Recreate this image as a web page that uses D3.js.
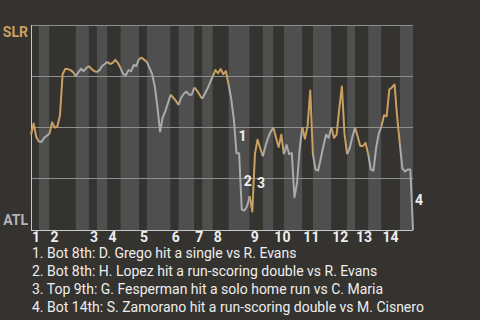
<!DOCTYPE html>
<html>
<head>
<meta charset="utf-8">
<script src="https://cdn.jsdelivr.net/npm/d3@7"></script>
<style>
  body { margin: 0; background: #35332f; }
  svg { display: block; font-family: Roboto, "Noto Sans", sans-serif; }
</style>
</head>
<body>
<div id="chart"></div>
<script>
// teams: away (top of plot) and home (bottom)
const awayTeam = "SLR", homeTeam = "ATL";

// event index where each half inning starts (last entry = final event)
const halfInningStarts = [0, 3, 7, 17, 22, 25, 29, 34, 41, 44, 53, 56, 62, 65, 69, 75, 83, 88, 92, 96, 103, 107, 114, 120, 123, 128, 133, 140, 145];
const innings = [1, 2, 3, 4, 5, 6, 7, 8, 9, 10, 11, 12, 13, 14];

// SLR win probability after each event
const winProb = [
  0.465, 0.52, 0.455, 0.43, 0.43, 0.45, 0.46, 0.47, 0.525, 0.50,
  0.505, 0.56, 0.76, 0.785, 0.785, 0.78, 0.77, 0.75, 0.77, 0.786,
  0.775, 0.79, 0.80, 0.785, 0.775, 0.77, 0.78, 0.80, 0.81, 0.82,
  0.81, 0.815, 0.83, 0.815, 0.79, 0.76, 0.755, 0.78, 0.775, 0.805,
  0.80, 0.835, 0.84, 0.83, 0.82, 0.79, 0.76, 0.70, 0.60, 0.48,
  0.55, 0.58, 0.62, 0.66, 0.645, 0.63, 0.61, 0.645, 0.665, 0.675,
  0.66, 0.66, 0.695, 0.68, 0.66, 0.64, 0.665, 0.69, 0.72, 0.75,
  0.78, 0.765, 0.785, 0.76, 0.775, 0.71, 0.64, 0.54, 0.375, 0.375,
  0.10, 0.095, 0.115, 0.165, 0.09, 0.37, 0.44, 0.40, 0.36, 0.41,
  0.45, 0.48, 0.50, 0.45, 0.405, 0.465, 0.37, 0.415, 0.37, 0.375,
  0.16, 0.23, 0.40, 0.50, 0.445, 0.51, 0.68, 0.37, 0.295, 0.29,
  0.35, 0.41, 0.465, 0.45, 0.50, 0.45, 0.465, 0.59, 0.70, 0.47,
  0.37, 0.40, 0.455, 0.50, 0.455, 0.41, 0.41, 0.425, 0.37, 0.295,
  0.29, 0.40, 0.47, 0.505, 0.56, 0.555, 0.685, 0.695, 0.71, 0.55,
  0.42, 0.30, 0.285, 0.295, 0.295, 0
];

// key plays: event index + description
const keyEvents = [78, 80, 85, 145];
const keyTexts = [
  "Bot 8th: D. Grego hit a single vs R. Evans",
  "Bot 8th: H. Lopez hit a run-scoring double vs R. Evans",
  "Top 9th: G. Fesperman hit a solo home run vs C. Maria",
  "Bot 14th: S. Zamorano hit a run-scoring double vs M. Cisnero"
];

let width = 480, height = 320;
let margin = {left: 31, right: 67, top: 25, bottom: 90};

const gold = "#c9a063", grey = "#aaaaaa";

let svg = d3.select("#chart").append("svg")
    .attr("width", width).attr("height", height);

svg.append("rect")
    .attr("width", width).attr("height", height)
    .attr("fill", "#35332f");

let x = d3.scaleLinear()
    .domain([0, winProb.length - 1])
    .range([margin.left, width - margin.right]);
let y = d3.scaleLinear()
    .domain([0, 1])
    .range([height - margin.bottom, margin.top]);

// half inning bands, top halves dark, bottom halves light
let halves = d3.range(halfInningStarts.length - 1).map(i => ({
    i: i, from: halfInningStarts[i], to: halfInningStarts[i + 1], top: i % 2 === 0
}));

svg.append("g").selectAll("rect")
    .data(halves)
    .join("rect")
    .attr("x", d => x(d.from))
    .attr("y", y(1))
    .attr("width", d => x(d.to) - x(d.from))
    .attr("height", y(0) - y(1))
    .attr("fill", d => d.top ? "#35332f" : "#4f4f4f");

// grid lines
svg.append("g").selectAll("line")
    .data([0.25, 0.5, 0.75, 1])
    .join("line")
    .attr("x1", x(0)).attr("x2", x(winProb.length - 1))
    .attr("y1", d => y(d)).attr("y2", d => y(d))
    .attr("stroke", "#8f8f8f")
    .attr("stroke-width", 1)
    .attr("shape-rendering", "crispEdges");

// axes lines (left + bottom)
svg.append("line")
    .attr("x1", x(0)).attr("x2", x(0))
    .attr("y1", y(1)).attr("y2", y(0))
    .attr("stroke", "#c8c8c8").attr("shape-rendering", "crispEdges");
svg.append("line")
    .attr("x1", x(0)).attr("x2", x(winProb.length - 1))
    .attr("y1", y(0)).attr("y2", y(0))
    .attr("stroke", "#c8c8c8").attr("shape-rendering", "crispEdges");

// win probability line, coloured by half inning
let line = d3.line()
    .x(d => x(d))
    .y(d => y(winProb[d]));

svg.append("g").selectAll("path")
    .data(halves)
    .join("path")
    .attr("d", d => line(d3.range(d.from, d.to + 1)))
    .attr("fill", "none")
    .attr("stroke", d => d.top ? gold : grey)
    .attr("stroke-width", 2)
    .attr("stroke-linejoin", "round");

// team labels
svg.append("text")
    .attr("x", 28).attr("y", 37)
    .attr("text-anchor", "end")
    .attr("font-size", 14).attr("font-weight", "bold")
    .attr("fill", gold)
    .text(awayTeam);
svg.append("text")
    .attr("x", 28).attr("y", 225)
    .attr("text-anchor", "end")
    .attr("font-size", 14).attr("font-weight", "bold")
    .attr("fill", "#b4b4b4")
    .text(homeTeam);

// inning numbers at the start of each inning
svg.append("g").selectAll("text")
    .data(innings)
    .join("text")
    .attr("x", d => x(halfInningStarts[(d - 1) * 2]) + 1)
    .attr("y", 242)
    .attr("font-size", 14).attr("font-weight", "bold")
    .attr("fill", "#eeeeee")
    .text(d => d);

// key event markers
svg.append("g").selectAll("text")
    .data(keyEvents)
    .join("text")
    .attr("x", d => x(d) + 2)
    .attr("y", d => (y(winProb[d]) + y(winProb[d - 1])) / 2)
    .attr("dy", "0.35em")
    .attr("font-size", 14).attr("font-weight", "bold")
    .attr("fill", "#eeeeee")
    .text((d, i) => i + 1);

// key event descriptions
svg.append("g").selectAll("text")
    .data(keyTexts)
    .join("text")
    .attr("x", 32)
    .attr("y", (d, i) => 258 + i * 18)
    .attr("font-size", 14)
    .attr("fill", "#eeeeee")
    .text((d, i) => (i + 1) + ". " + d);
</script>
</body>
</html>
